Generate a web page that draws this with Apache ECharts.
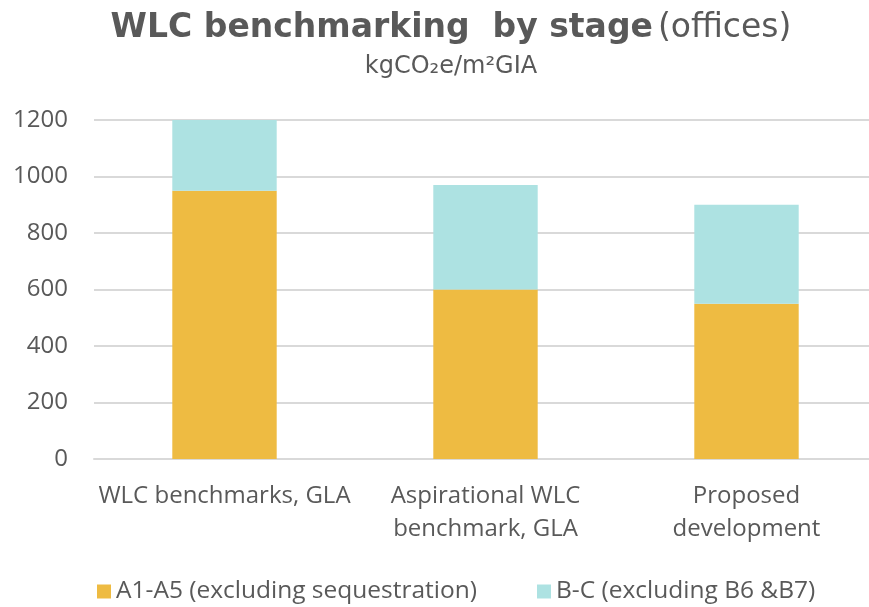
<!DOCTYPE html>
<html lang="en">
<head>
  <meta charset="UTF-8">
  <title>WLC benchmarking by stage</title>
  <script src="https://cdn.jsdelivr.net/npm/echarts@6/dist/echarts.min.js"></script>
  <style>
    html, body { margin: 0; padding: 0; background: #fff; }
    #chart { width: 869px; height: 607px; }
  </style>
</head>
<body>
<div id="chart"></div>
<script>
// data
const categories = ['WLC benchmarks, GLA', 'Aspirational WLC\nbenchmark, GLA', 'Proposed\ndevelopment'];
const seriesNames = ['A1-A5 (excluding sequestration)', 'B-C (excluding B6 &B7)'];
const a1a5 = [950, 600, 550];
const bc = [250, 370, 350];

const font = '"Open Sans", "Noto Sans", sans-serif';
const titleFont = '"DejaVu Sans", sans-serif';
const txt = '#595959';

let chart = echarts.init(document.getElementById('chart'));
chart.setOption({
  animation: false,
  title: {
    text: '{b|WLC benchmarking  by stage} {n|(offices)}',
    subtext: 'kgCO₂e/m²GIA',
    left: 446,
    textAlign: 'center',
    top: 7,
    itemGap: 10,
    textStyle: {
      rich: {
        b: { fontFamily: titleFont, fontWeight: 'bold', fontSize: 33, color: txt },
        n: { fontFamily: titleFont, fontWeight: 'normal', fontSize: 33, color: txt }
      }
    },
    subtextStyle: { fontFamily: titleFont, fontSize: 24, color: txt }
  },
  legend: {
    top: 574,
    left: 92,
    itemWidth: 14,
    itemHeight: 14,
    itemGap: 60,
    icon: 'rect',
    textStyle: { fontFamily: font, fontSize: 24.5, color: txt },
    data: seriesNames
  },
  grid: { left: 94, top: 120, width: 783, height: 339, outerBoundsMode: 'none' },
  xAxis: {
    type: 'category',
    data: categories,
    axisLine: { lineStyle: { color: '#d9d9d9', width: 2 } },
    axisTick: { show: false },
    axisLabel: { interval: 0, fontFamily: font, fontSize: 24, color: txt, margin: 21, lineHeight: 33 }
  },
  yAxis: {
    type: 'value',
    min: 0,
    max: 1200,
    interval: 200,
    axisLine: { show: false },
    axisTick: { show: false },
    splitLine: { lineStyle: { color: '#d9d9d9', width: 2 } },
    axisLabel: { fontFamily: font, fontSize: 24, color: txt, margin: 26, formatter: v => String(v) }
  },
  series: [
    { name: seriesNames[0], type: 'bar', stack: 'wlc', barWidth: '40%', data: a1a5, itemStyle: { color: '#eebb42' } },
    { name: seriesNames[1], type: 'bar', stack: 'wlc', barWidth: '40%', data: bc, itemStyle: { color: '#ade2e2' } }
  ]
});
</script>
</body>
</html>
